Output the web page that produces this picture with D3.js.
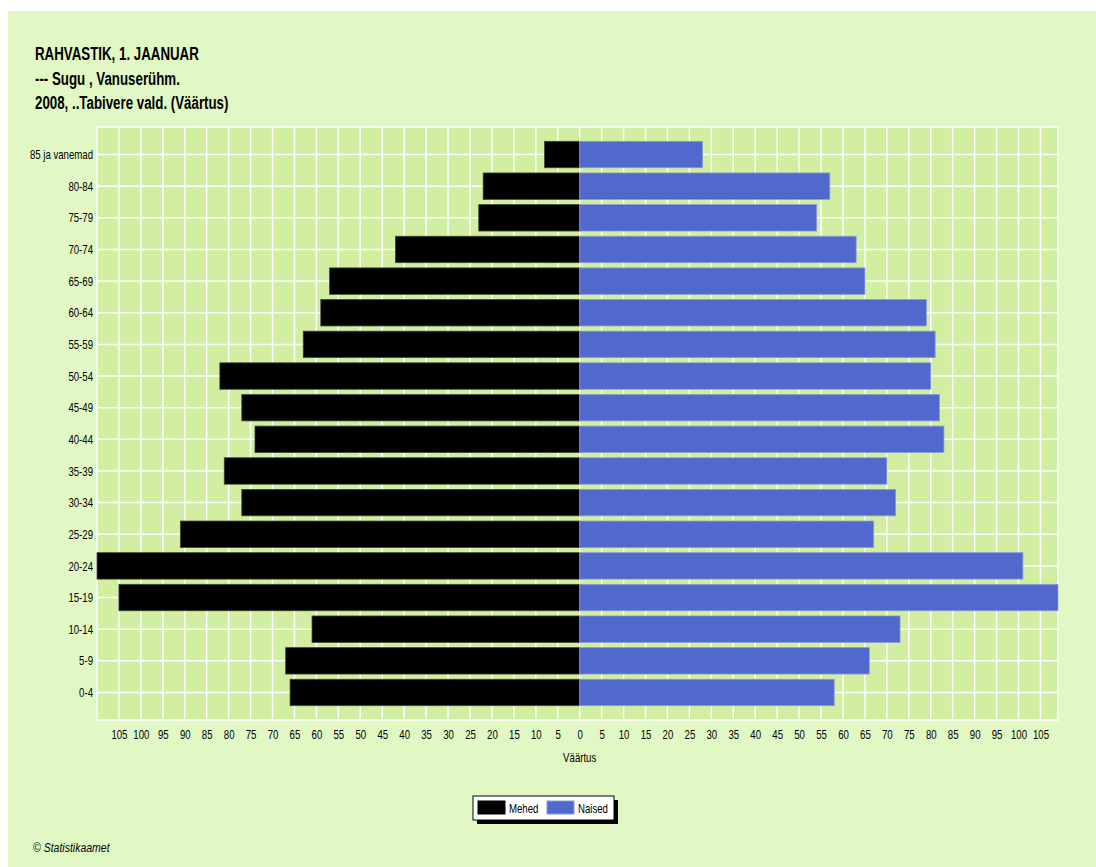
<!DOCTYPE html>
<html>
<head>
<meta charset="utf-8">
<script src="https://cdn.jsdelivr.net/npm/d3@7"></script>
<style>
  body { margin: 0; background: #ffffff; }
  text { font-family: "Liberation Sans", Arial, sans-serif; fill: #000; }
</style>
</head>
<body>
<div id="chart"></div>
<script>
// age groups, top to bottom
var ageGroups = ["85 ja vanemad", "80-84", "75-79", "70-74", "65-69", "60-64", "55-59",
  "50-54", "45-49", "40-44", "35-39", "30-34", "25-29", "20-24", "15-19", "10-14", "5-9", "0-4"];

// males (drawn to the left)
var mehed = [8, 22, 23, 42, 57, 59, 63, 82, 77, 74, 81, 77, 91, 110, 105, 61, 67, 66];
// females (drawn to the right)
var naised = [28, 57, 54, 63, 65, 79, 81, 80, 82, 83, 70, 72, 67, 101, 109, 73, 66, 58];

var titleLines = ["RAHVASTIK, 1. JAANUAR", "--- Sugu , Vanuserühm.", "2008, ..Tabivere vald. (Väärtus)"];
var xTicks = d3.range(-105, 106, 5);

var W = 1096, H = 867;
var plot = { left: 97, right: 1058, top: 127, bottom: 720 };

// no narrow font installed, so squeeze the text horizontally
function narrow(sel, k) {
  sel.each(function() {
    var len = this.getComputedTextLength();
    d3.select(this)
      .attr("textLength", len * k)
      .attr("lengthAdjust", "spacingAndGlyphs");
  });
}

var svg = d3.select("#chart").append("svg")
  .attr("width", W)
  .attr("height", H);

// outer panel
svg.append("rect")
  .attr("x", 8).attr("y", 11)
  .attr("width", W - 8).attr("height", H - 11)
  .attr("fill", "#e2f8c4");

// title
svg.selectAll(".title")
  .data(titleLines)
  .enter().append("text")
  .attr("class", "title")
  .attr("x", 35)
  .attr("y", function(d, i) { return 60 + i * 24.5; })
  .attr("font-size", "17.5px")
  .attr("font-weight", "bold")
  .text(function(d) { return d; })
  .call(narrow, 0.76);

// scales
var x = d3.scaleLinear()
  .domain([-110, 109])
  .range([plot.left, plot.right]);

var y = d3.scalePoint()
  .domain(ageGroups)
  .range([plot.top, plot.bottom])
  .padding(0.87);

var barH = y.step() * 0.835;

// plot background
svg.append("rect")
  .attr("x", plot.left).attr("y", plot.top)
  .attr("width", plot.right - plot.left).attr("height", plot.bottom - plot.top)
  .attr("fill", "#d2eea0")
  .attr("stroke", "#ffffff")
  .attr("stroke-width", 1.5);

// grid
svg.append("g").selectAll("line")
  .data(xTicks)
  .enter().append("line")
  .attr("x1", function(d) { return x(d); })
  .attr("x2", function(d) { return x(d); })
  .attr("y1", plot.top).attr("y2", plot.bottom)
  .attr("stroke", "#ffffff").attr("stroke-width", 1.5);

svg.append("g").selectAll("line")
  .data(ageGroups)
  .enter().append("line")
  .attr("x1", plot.left).attr("x2", plot.right)
  .attr("y1", function(d) { return y(d); })
  .attr("y2", function(d) { return y(d); })
  .attr("stroke", "#ffffff").attr("stroke-width", 1.5);

// bars - males
svg.append("g").selectAll("rect")
  .data(ageGroups)
  .enter().append("rect")
  .attr("x", function(d, i) { return x(-mehed[i]); })
  .attr("y", function(d) { return y(d) - barH / 2; })
  .attr("width", function(d, i) { return x(0) - x(-mehed[i]); })
  .attr("height", barH)
  .attr("fill", "#000000")
  .attr("stroke", "#3a4a30")
  .attr("stroke-width", 0.8);

// bars - females
svg.append("g").selectAll("rect")
  .data(ageGroups)
  .enter().append("rect")
  .attr("x", x(0))
  .attr("y", function(d) { return y(d) - barH / 2; })
  .attr("width", function(d, i) { return x(naised[i]) - x(0); })
  .attr("height", barH)
  .attr("fill", "#5169cc")
  .attr("stroke", "#8a9ad8")
  .attr("stroke-width", 0.8);

// y axis labels
var yAxis = svg.append("g")
  .attr("transform", "translate(" + plot.left + ",0)")
  .call(d3.axisLeft(y).tickSize(0).tickPadding(4));
yAxis.select(".domain").remove();
yAxis.selectAll("text")
  .attr("font-size", "13px")
  .style("font-family", "\"Liberation Sans\", Arial, sans-serif")
  .call(narrow, 0.74);

// x axis labels
var xAxis = svg.append("g")
  .attr("transform", "translate(0," + plot.bottom + ")")
  .call(d3.axisBottom(x).tickValues(xTicks).tickSize(0).tickPadding(10)
    .tickFormat(function(d) { return Math.abs(d); }));
xAxis.select(".domain").remove();
xAxis.selectAll("text")
  .attr("font-size", "13px")
  .style("font-family", "\"Liberation Sans\", Arial, sans-serif")
  .call(narrow, 0.74);

svg.append("text")
  .attr("x", x(0))
  .attr("y", 762)
  .attr("text-anchor", "middle")
  .attr("font-size", "13px")
  .text("Väärtus")
  .call(narrow, 0.74);

// legend
var legend = svg.append("g").attr("transform", "translate(473,796)");
legend.append("rect")
  .attr("x", 4).attr("y", 4).attr("width", 141).attr("height", 24)
  .attr("fill", "#000000");
legend.append("rect")
  .attr("x", 0).attr("y", 0).attr("width", 141).attr("height", 24)
  .attr("fill", "#ffffff").attr("stroke", "#000000").attr("stroke-width", 1);

var legendItems = [
  { name: "Mehed", color: "#000000", x: 5 },
  { name: "Naised", color: "#5169cc", x: 74 }
];
legendItems.forEach(function(d) {
  legend.append("rect")
    .attr("x", d.x).attr("y", 5).attr("width", 27).attr("height", 13)
    .attr("fill", d.color)
    .attr("stroke", d.color === "#000000" ? "#000" : "#8a9ad8");
  legend.append("text")
    .attr("x", d.x + 31).attr("y", 17)
    .attr("font-size", "13px")
    .text(d.name)
    .call(narrow, 0.74);
});

// footer
svg.append("text")
  .attr("x", 33).attr("y", 852)
  .attr("font-size", "12.5px")
  .attr("font-style", "italic")
  .text("© Statistikaamet")
  .call(narrow, 0.84);
</script>
</body>
</html>
